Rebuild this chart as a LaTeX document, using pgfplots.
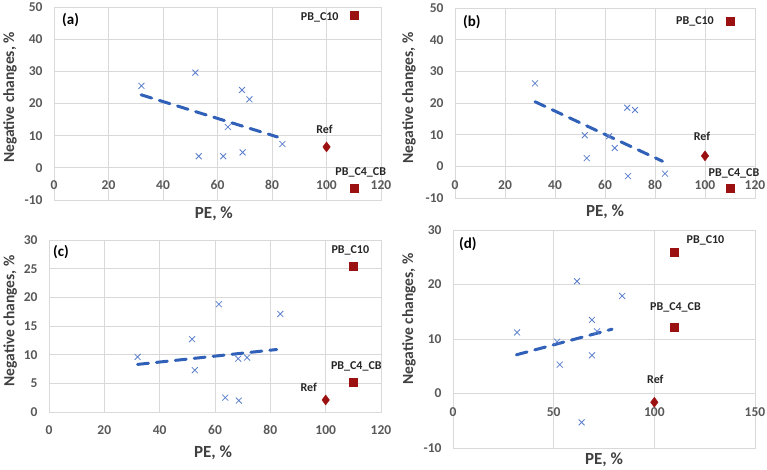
\documentclass[border=0pt]{standalone}
\usepackage{fontspec}
\setmainfont{Carlito}
\usepackage{pgfplots}
\pgfplotsset{compat=1.18}

\definecolor{gridc}{HTML}{D9D9D9}
\definecolor{tickc}{HTML}{595959}
\definecolor{labc}{HTML}{404040}
\definecolor{crossc}{HTML}{5B7FCC}
\definecolor{trendc}{HTML}{3060B8}
\definecolor{redc}{HTML}{9B1111}

\pgfplotsset{
  panel/.style={
    scale only axis,
    anchor=south west,
    grid=major,
    grid style={gridc, line width=0.8pt},
    axis line style={gridc, line width=0.8pt},
    major tick length=0pt,
    /pgf/number format/assume math mode=true,
    ticklabel style={font=\fontsize{13.5}{14}\selectfont\bfseries, text=tickc},
    yticklabel style={anchor=east, xshift=-8pt},
    ylabel style={font=\fontsize{15.5}{17}\selectfont\bfseries, text=labc},
    xlabel style={font=\fontsize{17}{18}\selectfont\bfseries, text=labc},
    xlabel={PE, \%},
    ylabel={Negative changes, \%},
    clip=false,
  },
  pts/.style={only marks, mark=x, mark size=4.2pt, crossc, mark options={line width=0.8pt}},
  trend/.style={trendc, line width=3pt, dash pattern=on 11pt off 8pt, line cap=round},
  redsq/.style={only marks, mark=square*, mark size=4pt, redc,
    nodes near coords, point meta=explicit symbolic,
    nodes near coords style={font=\fontsize{12}{13}\selectfont\bfseries, text=black!85, anchor=center}},
  reddi/.style={redsq, mark=diamond*, mark size=5pt},
}

\begin{document}
\begin{tikzpicture}
\useasboundingbox (0pt,0pt) rectangle (767pt,470pt);

% (a)
\begin{axis}[panel, at={(54pt,270pt)}, width=327pt, height=193pt,
  xmin=0, xmax=120, ymin=-10, ymax=50, xtick={0,20,...,120}, ytick={-10,0,...,50},
  xticklabel style={anchor=center, yshift=15pt},
  xlabel style={at={(axis description cs:0.489,-0.0725)}, anchor=center},
  ylabel style={at={(axis description cs:-0.1346,0.531)}, anchor=center}]
\addplot[pts] coordinates {(32.1,25.5) (51.9,29.6) (53.1,3.6) (62.1,3.6) (63.8,12.7) (69.0,24.2) (69.2,4.8) (71.7,21.3) (83.8,7.4)};
\addplot[trend] coordinates {(32,22.7) (82,9.6)};
\addplot[redsq, nodes near coords style={xshift=-34pt, yshift=-2pt}] coordinates {(110,47.4) [PB\_C10]};
\addplot[reddi, nodes near coords style={xshift=-2pt, yshift=18pt}] coordinates {(100,6.5) [Ref]};
\addplot[redsq, nodes near coords style={xshift=7pt, yshift=16pt}] coordinates {(110,-6.4) [PB\_C4\_CB]};
\node[anchor=west, inner sep=0pt, xshift=8pt, yshift=-13pt, font=\fontsize{15}{16}\selectfont\bfseries] at (rel axis cs:0,1) {(a)};
\end{axis}

% (b)
\begin{axis}[panel, at={(455pt,272pt)}, width=300pt, height=190pt,
  xmin=0, xmax=120, ymin=-10, ymax=50, xtick={0,20,...,120}, ytick={-10,0,...,50},
  xticklabel style={anchor=center, yshift=13pt},
  xlabel style={at={(axis description cs:0.5,-0.0737)}, anchor=center},
  ylabel style={at={(axis description cs:-0.153,0.526)}, anchor=center}]
\addplot[pts] coordinates {(32,26.2) (51.9,9.8) (52.7,2.6) (61.6,9.5) (63.9,5.8) (68.9,18.5) (69.2,-3.1) (72,17.8) (84,-2.3)};
\addplot[trend] coordinates {(32,20.4) (83,1.6)};
\addplot[redsq, nodes near coords style={xshift=-35pt, yshift=0pt}] coordinates {(110,45.8) [PB\_C10]};
\addplot[reddi, nodes near coords style={xshift=-3pt, yshift=20pt}] coordinates {(100,3.3) [Ref]};
\addplot[redsq, nodes near coords style={xshift=4pt, yshift=14pt}] coordinates {(110,-6.8) [PB\_C4\_CB]};
\node[anchor=west, inner sep=0pt, xshift=8pt, yshift=-14pt, font=\fontsize{15}{16}\selectfont\bfseries] at (rel axis cs:0,1) {(b)};
\end{axis}

% (c)
\begin{axis}[panel, at={(49pt,58pt)}, width=332pt, height=172pt,
  xmin=0, xmax=120, ymin=0, ymax=30, xtick={0,20,...,120}, ytick={0,5,...,30},
  xticklabel style={anchor=center, yshift=-18pt},
  xlabel style={at={(axis description cs:0.494,-0.238)}, anchor=center},
  ylabel style={at={(axis description cs:-0.117,0.529)}, anchor=center}]
\addplot[pts] coordinates {(32,9.6) (51.7,12.7) (52.7,7.3) (61.4,18.8) (63.7,2.5) (68.4,9.3) (68.6,2.0) (71.6,9.5) (83.6,17.1)};
\addplot[trend] coordinates {(32,8.3) (82.3,10.9)};
\addplot[redsq, nodes near coords style={xshift=-3pt, yshift=16pt}] coordinates {(110,25.4) [PB\_C10]};
\addplot[reddi, nodes near coords style={xshift=-17pt, yshift=13pt}] coordinates {(100,2.1) [Ref]};
\addplot[redsq, nodes near coords style={xshift=3pt, yshift=16pt}] coordinates {(110,5.2) [PB\_C4\_CB]};
\node[anchor=west, inner sep=0pt, xshift=4pt, yshift=-12pt, font=\fontsize{15}{16}\selectfont\bfseries] at (rel axis cs:0,1) {(c)};
\end{axis}

% (d)
\begin{axis}[panel, at={(453pt,22pt)}, width=302pt, height=218pt,
  xmin=0, xmax=150, ymin=-10, ymax=30, xtick={0,50,100,150}, ytick={-10,0,...,30},
  xticklabel style={anchor=center, yshift=36pt},
  xlabel style={at={(axis description cs:0.5,-0.055)}, anchor=center},
  ylabel style={at={(axis description cs:-0.146,0.592)}, anchor=center}]
\addplot[pts] coordinates {(31.8,11.2) (51.7,9.5) (53,5.3) (61.6,20.6) (63.9,-5.3) (69,13.5) (69,7.0) (71.5,11.4) (84,17.9)};
\addplot[trend] coordinates {(31.5,7.1) (79,11.8)};
\addplot[redsq, nodes near coords style={xshift=31pt, yshift=12pt}] coordinates {(110,25.9) [PB\_C10]};
\addplot[reddi, nodes near coords style={xshift=1pt, yshift=23pt}] coordinates {(100,-1.6) [Ref]};
\addplot[redsq, nodes near coords style={xshift=1pt, yshift=20pt}] coordinates {(110,12.2) [PB\_C4\_CB]};
\node[anchor=west, inner sep=0pt, xshift=6pt, yshift=-14pt, font=\fontsize{15}{16}\selectfont\bfseries] at (rel axis cs:0,1) {(d)};
\end{axis}
\end{tikzpicture}
\end{document}
